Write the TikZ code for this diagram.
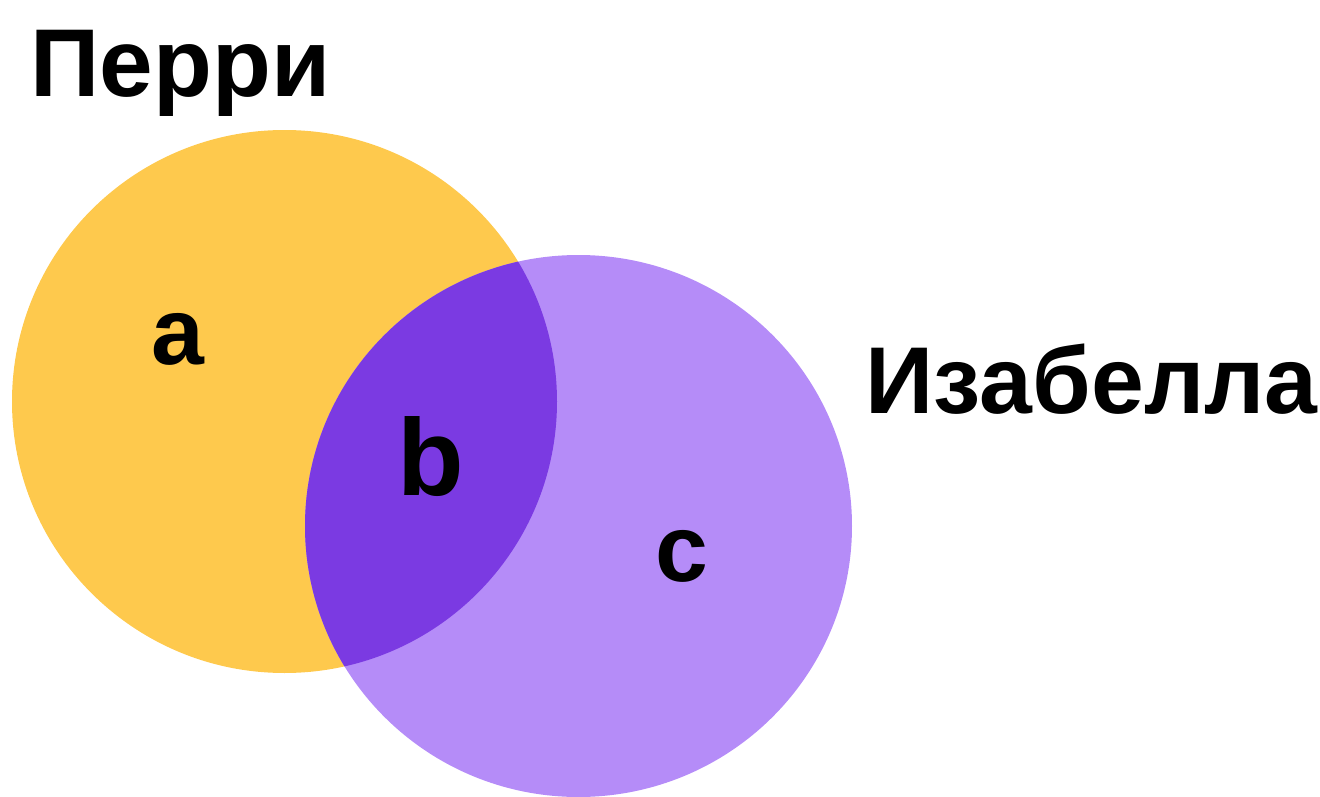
\documentclass[tikz,border=0pt]{standalone}
\usepackage{fontspec}
\setmainfont{Liberation Sans}
\definecolor{perriyellow}{RGB}{254,201,77}
\definecolor{isalilac}{RGB}{181,140,248}
\definecolor{bothviolet}{RGB}{123,58,226}
\begin{document}
\begin{tikzpicture}[x=0.01cm,y=-0.01cm,
  setname/.style={inner sep=0pt,anchor=base west,font=\bfseries\fontsize{27.4}{30}\selectfont},
  region/.style={inner sep=0pt,anchor=base,font=\bfseries\fontsize{27}{30}\selectfont}]
  \useasboundingbox (0,0) rectangle (1320,797);
  % the two sets
  \fill[perriyellow] (284.5,401.5) circle [x radius=272.5, y radius=271.5];
  \fill[isalilac] (578.5,526) circle [x radius=273.5, y radius=271];
  % their overlap
  \begin{scope}
    \clip (284.5,401.5) circle [x radius=272.5, y radius=271.5];
    \fill[bothviolet] (578.5,526) circle [x radius=273.5, y radius=271];
  \end{scope}
  % set names
  \node[setname] (perri) at (30,97) {Перри};
  \node[setname,font=\bfseries\fontsize{27}{30}\selectfont] (isabella) at (865,413) {Изабелла};
  % region labels
  \node[region] (a) at (178,364) {a};
  \node[region,font=\bfseries\fontsize{31}{34}\selectfont] (b) at (431,495) {b};
  \node[region] (c) at (682,581) {c};
\end{tikzpicture}
\end{document}
